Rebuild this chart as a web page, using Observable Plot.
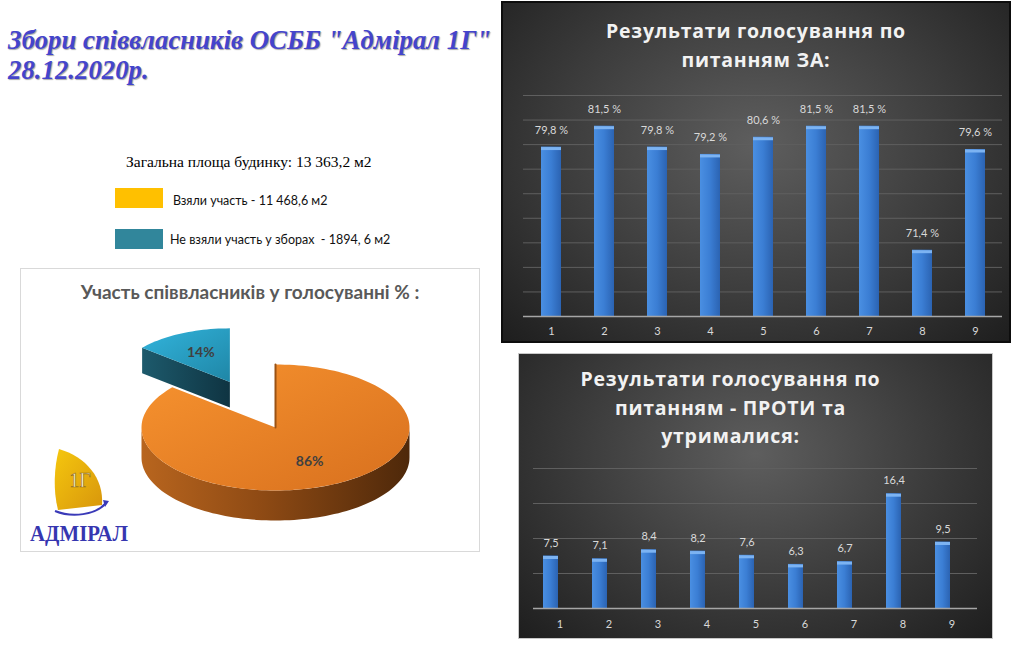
<!DOCTYPE html>
<html><head><meta charset="utf-8">
<script src="https://cdn.jsdelivr.net/npm/d3@7"></script>
<script src="https://cdn.jsdelivr.net/npm/@observablehq/plot@0.6"></script>
<style>
body{margin:0;width:1024px;height:649px;background:#fff;position:relative;overflow:hidden;font-family:Lato,sans-serif;}
.abs{position:absolute;}
#title{left:8px;top:25px;font:italic bold 26.8px "Liberation Serif",serif;color:#4444CC;line-height:30px;text-shadow:1px 1px 1px rgba(0,0,0,0.35);white-space:nowrap;}
#area{left:126px;top:153px;font:15.5px "Liberation Serif",serif;color:#000;white-space:nowrap;}
.sw{width:48px;height:20px;}
.lg{font:12.5px Lato,sans-serif;color:#111;white-space:pre;}
.panel{overflow:hidden;}
.ctitle{left:0;width:100%;text-align:center;font:bold 19.5px "Open Sans",sans-serif;color:#f2f2f2;line-height:28.5px;letter-spacing:0.75px;}
#forPanel{left:503px;top:3px;width:506px;height:338px;background:radial-gradient(ellipse at 50% 42%,#5e5e5e 0%,#3c3c3c 55%,#1e1e1e 100%);box-shadow:0 0 0 2px #0d0d0d;}
#agPanel{left:519px;top:354px;width:473px;height:284px;background:radial-gradient(ellipse at 50% 35%,#5e5e5e 0%,#3a3a3a 55%,#1e1e1e 100%);box-shadow:0 0 0 1px #c8c8c8;}
#piePanel{left:20px;top:268px;width:458px;height:282px;border:1px solid #d9d9d9;background:#fff;}
#pieTitle{left:0;top:11px;width:100%;text-align:center;font:bold 19px Lato,sans-serif;color:#595959;}
svg.plot{background:transparent;}
</style></head>
<body>
<svg width="0" height="0" style="position:absolute">
<defs>
<linearGradient id="barGrad" x1="0" x2="1" y1="0" y2="0">
<stop offset="0" stop-color="#4a8fe2"/><stop offset="0.5" stop-color="#3b7ed4"/><stop offset="1" stop-color="#2b63b2"/>
</linearGradient>
<linearGradient id="orTop" x1="0" x2="1" y1="0" y2="1">
<stop offset="0" stop-color="#f7932f"/><stop offset="1" stop-color="#d8701e"/>
</linearGradient>
<linearGradient id="orSide" x1="0" x2="1" y1="0" y2="0">
<stop offset="0" stop-color="#b8651e"/><stop offset="0.45" stop-color="#8e4a14"/><stop offset="1" stop-color="#4e280a"/>
</linearGradient>
<linearGradient id="cyTop" x1="0" x2="1" y1="0" y2="1">
<stop offset="0" stop-color="#32b4dc"/><stop offset="1" stop-color="#1f86a6"/>
</linearGradient>
<linearGradient id="cySide" x1="0" x2="1" y1="0" y2="0">
<stop offset="0" stop-color="#1d5a6c"/><stop offset="1" stop-color="#0f3442"/>
</linearGradient>
<linearGradient id="sail" x1="0" x2="1" y1="0" y2="1">
<stop offset="0" stop-color="#f5c70e"/><stop offset="1" stop-color="#d8960c"/>
</linearGradient>
</defs>
</svg>

<div id="title" class="abs">Збори співвласників ОСББ "Адмірал 1Г"<br>28.12.2020р.</div>
<div id="area" class="abs"></div>
<div class="abs sw" style="left:115px;top:188px;background:#FFC000"></div>
<div id="lg1" class="abs lg" style="left:173px;top:193px"></div>
<div class="abs sw" style="left:115px;top:229px;background:#31869B"></div>
<div id="lg2" class="abs lg" style="left:170px;top:232px"></div>

<div id="piePanel" class="abs"><div id="pieTitle" class="abs">Участь співвласників у голосуванні % :</div></div>
<svg class="abs" style="left:10px;top:440px" width="130" height="110" viewBox="10 440 130 110">
<path d="M59,449 C86,457 104,478 102,505 L58,510 C53,490 54,468 59,449 Z" fill="url(#sail)"/>
<text x="80" y="487" text-anchor="middle" font-family="Liberation Serif" font-size="20" fill="#fff" stroke="#9a7410" stroke-width="0.7">1Г</text>
<path d="M55,511 C72,518 96,515 106,503" fill="none" stroke="#3a3ab8" stroke-width="2"/>
<path d="M103,500 L109,501 L105,507 Z" fill="#3a3ab8"/>
<text x="30" y="541" font-family="Liberation Serif" font-weight="bold" font-size="23" fill="#3636b0" textLength="98" lengthAdjust="spacingAndGlyphs">АДМІРАЛ</text>
</svg>

<div id="forPanel" class="abs panel"><div class="abs ctitle" style="top:14px">Результати голосування по<br>питанням ЗА:</div></div>
<div id="agPanel" class="abs panel"><div class="abs ctitle" style="top:11px;left:-25px">Результати голосування по<br>питанням - ПРОТИ та<br>утрималися:</div></div>

<script>
// ---- data ----
const questions = [1, 2, 3, 4, 5, 6, 7, 8, 9];
const forPct = [79.8, 81.5, 79.8, 79.2, 80.6, 81.5, 81.5, 71.4, 79.6];
const againstPct = [7.5, 7.1, 8.4, 8.2, 7.6, 6.3, 6.7, 16.4, 9.5];
const forTicks = [66, 68, 70, 72, 74, 76, 78, 80, 82, 84];
const againstTicks = [0, 5, 10, 15, 20];
const sliceNames = ["Взяли участь", "Не взяли участь"];
const slicePct = [86, 14];
const areaText = "Загальна площа будинку: 13 363,2 м2";
const legendTexts = ["Взяли участь - 11 468,6 м2", "Не взяли участь у зборах  - 1894, 6 м2"];

document.getElementById("area").textContent = areaText;
document.getElementById("lg1").textContent = legendTexts[0];
document.getElementById("lg2").textContent = legendTexts[1];

const comma = v => String(v).replace(".", ",");
const forData = questions.map((q, i) => ({q, v: forPct[i]}));
const agData = questions.map((q, i) => ({q, v: againstPct[i]}));
const light = "#d9d9d9";

// ---- top chart: ЗА ----
const forPlot = Plot.plot({
  width: 506, height: 338,
  marginLeft: 20, marginRight: 7, marginTop: 92, marginBottom: 25,
  style: {background: "transparent", color: light, fontFamily: "Lato, sans-serif"},
  x: {type: "band", domain: questions, paddingInner: 0.624, paddingOuter: 0.312, label: null},
  y: {domain: [66, 84], axis: null},
  marks: [
    Plot.ruleY(forTicks, {stroke: "#5f5f5f", strokeWidth: 1}),
    Plot.barY(forData, {x: "q", y: "v", fill: "url(#barGrad)", clip: true}),
    Plot.tickY(forData, {x: "q", y: "v", stroke: "#7cb3f2", strokeWidth: 3, dy: 1.5}),
    Plot.ruleY([66], {stroke: "#a6a6a6", strokeWidth: 1.5}),
    Plot.text(forData, {x: "q", y: "v", text: d => comma(d.v) + " %", dy: -17, fill: light, fontSize: 11}),
    Plot.axisX({tickSize: 0, tickPadding: 11, fontSize: 11, color: light, label: null})
  ]
});
document.getElementById("forPanel").appendChild(forPlot);

// ---- bottom chart: ПРОТИ ----
const agPlot = Plot.plot({
  width: 473, height: 284,
  marginLeft: 14, marginRight: 15, marginTop: 114, marginBottom: 30,
  style: {background: "transparent", color: light, fontFamily: "Lato, sans-serif"},
  x: {type: "band", domain: questions, paddingInner: 0.7, paddingOuter: 0.35, label: null},
  y: {domain: [0, 20], axis: null},
  marks: [
    Plot.ruleY(againstTicks, {stroke: "#5f5f5f", strokeWidth: 1}),
    Plot.barY(agData, {x: "q", y: "v", fill: "url(#barGrad)", dx: -9}),
    Plot.tickY(agData, {x: "q", y: "v", stroke: "#7cb3f2", strokeWidth: 3, dy: 1.5, dx: -9}),
    Plot.ruleY([0], {stroke: "#a6a6a6", strokeWidth: 1.5}),
    Plot.text(agData, {x: "q", y: "v", text: d => comma(d.v), dy: -13, dx: -9, fill: light, fontSize: 11}),
    Plot.axisX({tickSize: 0, tickPadding: 12, fontSize: 11, color: light, label: null})
  ]
});
document.getElementById("agPanel").appendChild(agPlot);

// ---- 3D exploded pie ----
const W = 458, H = 282;
const pcx = 254, pcy = 158, rx = 134, ry = 63, depth = 30;
const explode = [0, 0.8], persp = [1, 0.85];
const topFill = ["url(#orTop)", "url(#cyTop)"], sideFill = ["url(#orSide)", "url(#cySide)"];
const rad = a => a * Math.PI / 180;
const total = d3.sum(slicePct);
let acc = 0;
const slices = slicePct.map((v, i) => {
  const a0 = acc / total * 360; acc += v; const a1 = acc / total * 360;
  const mid = (a0 + a1) / 2, e = explode[i], s = persp[i];
  const ox = pcx + e * rx * Math.sin(rad(mid)), oy = pcy - e * ry * Math.cos(rad(mid));
  const P = (a, dd = 0, k = 1) => ({x: ox + k * s * rx * Math.sin(rad(a)), y: oy - k * s * ry * Math.cos(rad(a)) + dd * s});
  const arc = (b0, b1, dd = 0) => { const n = Math.max(2, Math.ceil(Math.abs(b1 - b0) / 2)); return d3.range(n + 1).map(j => P(b0 + (b1 - b0) * j / n, dd)); };
  const apex = {x: ox, y: oy};
  const top = [apex, ...arc(a0, a1)];
  const s0 = Math.max(a0, 90), s1 = Math.min(a1, 270);
  const side = s1 > s0 ? [...arc(s0, s1), ...arc(s1, s0, depth)] : null;
  const startVis = -Math.cos(rad(a0 - 90)) > 0.05;
  const cut = startVis ? [apex, P(a0), P(a0, depth), {x: ox, y: oy + depth * s}] : null;
  const lab = P(mid, 0, 0.6);
  return {i, v, a0, a1, top, side, cut, lab, apex, p0: P(a0), name: sliceNames[i]};
});
const pieMarks = [];
[...slices].sort((a, b) => b.i - a.i).forEach(sl => {
  if (sl.cut) pieMarks.push(Plot.line(sl.cut, {x: "x", y: "y", fill: sideFill[sl.i], stroke: "none"}));
  if (sl.side) pieMarks.push(Plot.line(sl.side, {x: "x", y: "y", fill: sideFill[sl.i], stroke: "none"}));
  pieMarks.push(Plot.line(sl.top, {x: "x", y: "y", fill: topFill[sl.i], stroke: "none"}));
  if (sl.i === 0) pieMarks.push(Plot.line([sl.apex, sl.p0], {x: "x", y: "y", stroke: "#9a5214", strokeWidth: 2}));
});
pieMarks.push(Plot.text(slices, {x: d => d.lab.x, y: d => d.lab.y, text: d => d.v + "%", fill: "#404040", fontSize: 14, fontWeight: "bold"}));
const piePlot = Plot.plot({
  width: W, height: H, margin: 0,
  style: {background: "transparent", fontFamily: "Lato, sans-serif"},
  x: {type: "linear", domain: [0, W], range: [0, W], axis: null},
  y: {type: "linear", domain: [0, H], range: [0, H], axis: null},
  marks: pieMarks
});
piePlot.style.position = "absolute"; piePlot.style.left = "0px"; piePlot.style.top = "0px";
document.getElementById("piePanel").insertBefore(piePlot, document.getElementById("pieTitle"));
</script>
</body></html>
